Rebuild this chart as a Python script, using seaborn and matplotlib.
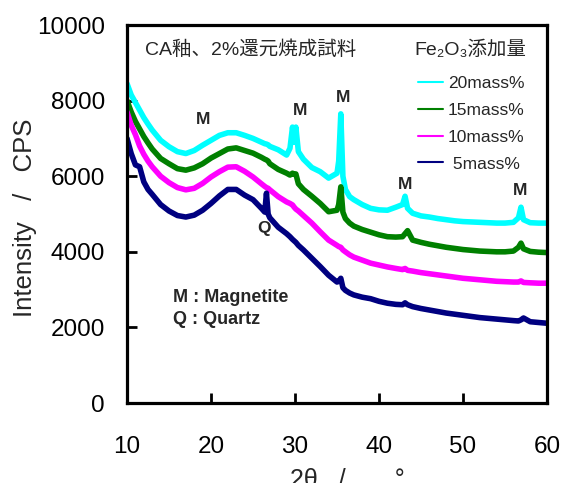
import numpy as np
import pandas as pd
import matplotlib
matplotlib.use("Agg")
import matplotlib.pyplot as plt
import seaborn as sns

# ---- data ----
two_theta = [10, 10.5, 11, 11.5, 12, 12.5, 13, 14, 15, 16, 17, 18, 19, 20, 21, 22, 23, 24, 25, 26,
             26.4, 26.6, 26.8, 27, 28, 29, 29.4, 29.7, 29.9, 30.1, 30.4, 31, 32, 33, 34, 35,
             35.2, 35.45, 35.7, 36, 36.5, 37, 38, 39, 40, 41, 42, 42.8, 43.1, 43.4, 44, 45,
             46, 47, 48, 49, 50, 51, 52, 53, 54, 55, 56, 56.6, 56.9, 57.2, 58, 59, 60]

cps_20 = [8450, 8150, 7950, 7750, 7550, 7380, 7220, 6950, 6780, 6650, 6600, 6680, 6820, 6950, 7080, 7150, 7150, 7080, 7000, 6900,
          6860, 6850, 6830, 6790, 6700, 6560, 6740, 7300, 6900, 7300, 6650, 6450, 6230, 6120, 5950, 6080,
          6400, 7650, 6000, 5650, 5460, 5380, 5250, 5150, 5110, 5100, 5180, 5250, 5470, 5150, 5020, 4950,
          4920, 4880, 4850, 4820, 4800, 4790, 4780, 4770, 4760, 4760, 4780, 4900, 5180, 4850, 4770, 4760, 4760]

cps_15 = [8000, 7700, 7450, 7250, 7050, 6880, 6720, 6470, 6330, 6200, 6160, 6220, 6330, 6480, 6600, 6720, 6750, 6680, 6610, 6500,
          6450, 6430, 6400, 6330, 6180, 6080, 6030, 6080, 6050, 6060, 5800, 5650, 5470, 5280, 5060, 5100,
          5250, 5720, 5050, 4880, 4760, 4680, 4590, 4520, 4450, 4400, 4390, 4400, 4480, 4560, 4310, 4250,
          4200, 4160, 4120, 4090, 4060, 4040, 4020, 4010, 4000, 4000, 4020, 4120, 4230, 4080, 4010, 3990, 3980]

cps_10 = [7700, 7350, 7100, 6800, 6580, 6400, 6250, 6000, 5830, 5700, 5640, 5680, 5810, 5980, 6120, 6240, 6250, 6130, 5980, 5800,
          5730, 5700, 5680, 5640, 5460, 5320, 5280, 5240, 5180, 5130, 5080, 4960, 4760, 4530, 4310, 4170,
          4140, 4120, 4050, 4000, 3920, 3860, 3780, 3700, 3650, 3600, 3560, 3530, 3560, 3510, 3490, 3450,
          3420, 3390, 3360, 3330, 3300, 3280, 3260, 3240, 3220, 3210, 3200, 3200, 3230, 3190, 3180, 3170, 3170]

cps_5 = [7000, 6600, 6300, 6250, 5850, 5650, 5520, 5250, 5080, 4960, 4920, 4970, 5100, 5280, 5480, 5650, 5650, 5500, 5380, 5150,
         5050, 5550, 5000, 4900, 4650, 4480, 4400, 4330, 4290, 4250, 4170, 4050, 3830, 3610, 3380, 3200,
         3220, 3300, 3050, 2980, 2910, 2860, 2800, 2760, 2690, 2640, 2610, 2600, 2650, 2600, 2550, 2500,
         2460, 2420, 2380, 2350, 2320, 2290, 2260, 2240, 2220, 2200, 2180, 2170, 2200, 2250, 2150, 2130, 2110]

series_labels = ["20mass%", "15mass%", "10mass%", " 5mass%"]
series_colors = ["#00FFFF", "#008000", "#FF00FF", "#000080"]
legend_title = "Fe₂O₃添加量"

x_ticks = [10, 20, 30, 40, 50, 60]
y_ticks = [0, 2000, 4000, 6000, 8000, 10000]

# peak annotations: (label, 2theta, intensity position)
peak_labels = ["M", "M", "M", "M", "M", "Q"]
peak_x = [19.05, 30.6, 35.7, 43.1, 56.8, 26.3]
peak_y = [7490, 7750, 8070, 5770, 5635, 4630]

# ---- build long table ----
frames = []
for lab, vals in zip(series_labels, [cps_20, cps_15, cps_10, cps_5]):
    frames.append(pd.DataFrame({"two_theta": two_theta, "cps": vals, "sample": lab}))
df = pd.concat(frames, ignore_index=True)

sns.set_theme(style="ticks")
plt.rcParams["font.family"] = ["Liberation Sans", "Noto Sans CJK JP", "DejaVu Sans"]

fig = plt.figure(figsize=(5.64, 4.83), dpi=100)
ax = fig.add_axes([0.2252, 0.1656, 0.9699 - 0.2252, 0.9482 - 0.1656])

sns.lineplot(data=df, x="two_theta", y="cps", hue="sample", hue_order=series_labels,
             palette=dict(zip(series_labels, series_colors)), estimator=None, sort=False,
             linewidth=4.0, ax=ax)

ax.set_xlim(10, 60)
ax.set_ylim(0, 10000)
ax.set_xticks(x_ticks)
ax.set_yticks(y_ticks)
ax.tick_params(axis="both", direction="in", length=7, width=2, labelsize=17.5, colors="black")
ax.tick_params(axis="x", pad=24)
ax.tick_params(axis="y", pad=16)
for s in ax.spines.values():
    s.set_linewidth(2.3)
    s.set_color("black")
    s.set_visible(True)

ax.set_xlabel("2θ   /       °", fontsize=18)
ax.set_ylabel("Intensity   /   CPS", fontsize=18.5)
ax.xaxis.set_label_coords(0.525, -0.172)
ax.yaxis.set_label_coords(-0.215, 0.49)

ax.text(0.043, 0.934, "CA釉、2%還元焼成試料", transform=ax.transAxes, fontsize=14,
        ha="left", va="center")
ax.text(0.817, 0.934, legend_title, transform=ax.transAxes, fontsize=14,
        ha="center", va="center")

handles, labels = ax.get_legend_handles_labels()
leg = ax.legend(handles, labels, loc="upper right",
                bbox_to_anchor=(0.947, 0.865), frameon=False, fontsize=12.5,
                handlelength=1.4, handletextpad=0.3,
                labelspacing=0.67, borderpad=0, borderaxespad=0)
for h in leg.legend_handles:
    h.set_linewidth(1.5)

for lab, px, py in zip(peak_labels, peak_x, peak_y):
    ax.text(px, py, lab, fontsize=12.5, fontweight="bold", ha="center", va="center")

ax.text(0.11, 0.28, "M : Magnetite", transform=ax.transAxes, fontsize=13,
        fontweight="bold", ha="left", va="center")
ax.text(0.11, 0.22, "Q : Quartz", transform=ax.transAxes, fontsize=13,
        fontweight="bold", ha="left", va="center")

fig.savefig("out.png", dpi=100)
